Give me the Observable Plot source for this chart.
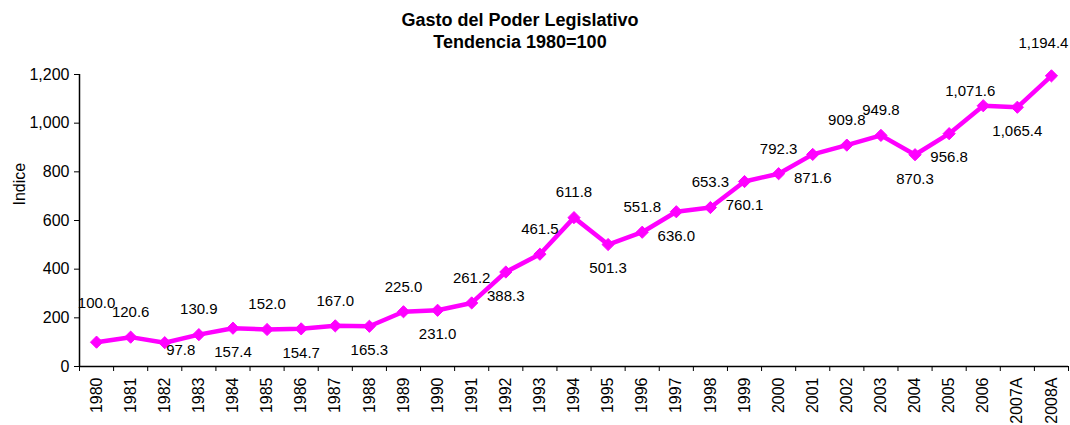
<!DOCTYPE html>
<html><head><meta charset="utf-8">
<script src="https://cdn.jsdelivr.net/npm/d3@7"></script>
<script src="https://cdn.jsdelivr.net/npm/@observablehq/plot@0.6"></script>
<style>
body{margin:0;background:#fff;font-family:"Liberation Sans",Arial,sans-serif;}
#wrap{position:relative;width:1070px;height:425px;}
#title{position:absolute;left:0;width:1040px;top:9px;text-align:center;font-weight:bold;font-size:18px;line-height:22px;color:#000;}
#chart{position:absolute;left:0;top:0;}
</style></head><body>
<div id="wrap"><div id="chart"></div><div id="title">Gasto del Poder Legislativo<br>Tendencia 1980=100</div></div>
<script>
const years = ["1980","1981","1982","1983","1984","1985","1986","1987","1988","1989","1990","1991","1992","1993","1994","1995","1996","1997","1998","1999","2000","2001","2002","2003","2004","2005","2006","2007A","2008A"];
const values = [100.0,120.6,97.8,130.9,157.4,152.0,154.7,167.0,165.3,225.0,231.0,261.2,388.3,461.5,611.8,501.3,551.8,636.0,653.3,760.1,792.3,871.6,909.8,949.8,870.3,956.8,1071.6,1065.4,1194.4];
const labelSide = ["high","above","right","above","below","above","below","above","below","above","below","above","below","above","above","below","above","below","above","below","above","below","above","above","below","below","left","below","corner"];
const yTicks = [0,200,400,600,800,1000,1200];

const data = years.map((y,i)=>({i: i+0.5, year: y, value: values[i], side: labelSide[i]}));
const fmt = d3.format(",.1f");
const pink = "#FF00FF";

const placement = {
  above: {dy: -25},
  below: {dy: 24},
  high: {dy: -39},
  right: {dx: 16, dy: 7},
  left: {dx: -13, dy: -15},
  corner: {dx: 17, dy: -33, textAnchor: "end"}
};
const labelMarks = Object.entries(placement).map(([side, opts]) =>
  Plot.text(data.filter(d => d.side === side), {x: "i", y: "value", text: d => fmt(d.value), fontSize: 15, ...opts})
);

const chart = Plot.plot({
  width: 1070, height: 425,
  marginTop: 74, marginBottom: 59, marginLeft: 79, marginRight: 2,
  style: {fontFamily: "'Liberation Sans', Arial, sans-serif", fontSize: "16px", color: "#000", background: "transparent"},
  x: {type: "linear", domain: [0, years.length]},
  y: {domain: [0, 1200]},
  marks: [
    Plot.axisY({ticks: yTicks, tickSize: 5, tickPadding: 5, tickFormat: d3.format(","), label: null, fontSize: 16}),
    Plot.axisX({ticks: d3.range(years.length + 1), tickSize: 5, tickFormat: () => "", label: null}),
    Plot.axisX({ticks: data.map(d=>d.i), tickSize: 0, tickPadding: 11, tickRotate: -90, tickFormat: v => years[Math.floor(v)], label: null, fontSize: 16}),
    Plot.ruleX([0], {stroke: "#000", strokeWidth: 1.5}),
    Plot.ruleY([0], {stroke: "#000", strokeWidth: 1.5}),
    Plot.text(["Indice"], {frameAnchor: "left", dx: -60, dy: -15, rotate: -90, fontSize: 16}),
    Plot.line(data, {x: "i", y: "value", stroke: pink, strokeWidth: 4.5, strokeLinejoin: "round"}),
    Plot.dot(data, {x: "i", y: "value", symbol: "diamond2", r: 5.5, fill: pink, stroke: pink, strokeWidth: 1}),
    ...labelMarks
  ]
});
document.getElementById("chart").appendChild(chart);
</script>
</body></html>
